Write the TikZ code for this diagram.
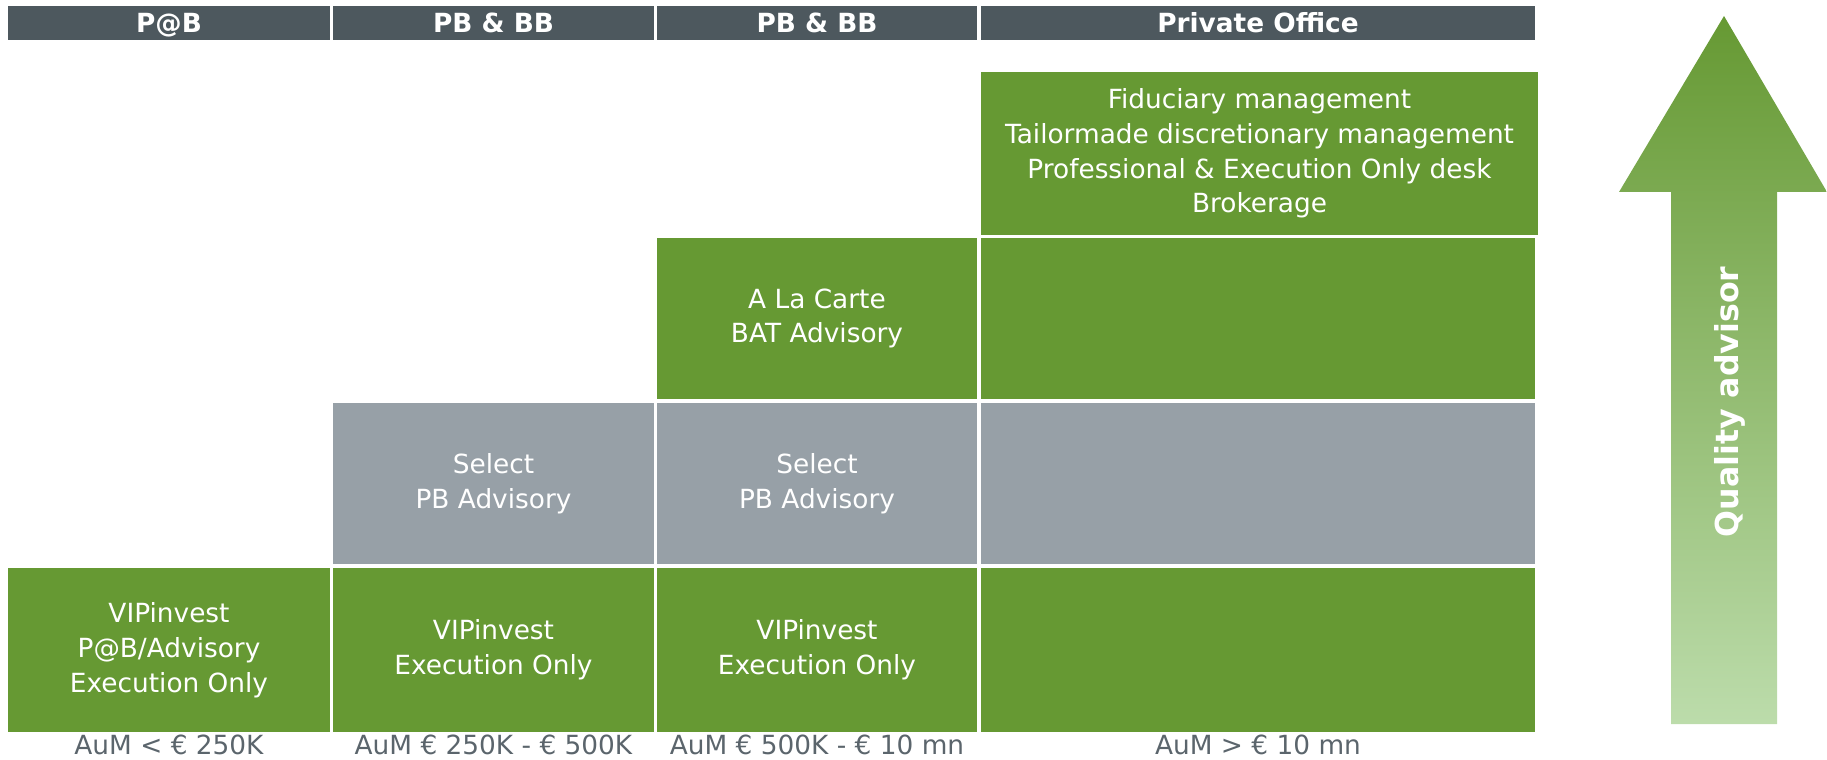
\documentclass[tikz,border=0pt]{standalone}
\usepackage{fontspec}
\setmainfont{DejaVu Sans}

\definecolor{pbgreen}{HTML}{669933}
\definecolor{pbgrey}{HTML}{97A0A7}
\definecolor{pbdark}{HTML}{4D585E}
\definecolor{pbtext}{HTML}{5B656C}
\definecolor{pblight}{HTML}{BCDCAB}

\tikzset{
	cell/.style={rectangle, fill=pbgreen, text=white, inner sep=0pt, align=center, font=\fontsize{15}{19.8}\selectfont},
	greycell/.style={cell, fill=pbgrey},
	colhead/.style={rectangle, fill=pbdark, text=white, inner sep=0pt, minimum height=0.68cm, text height=11pt, text depth=0pt, font=\bfseries\fontsize{15}{17}\selectfont},
	aum/.style={text=pbtext, inner sep=0pt, font=\fontsize{15}{17}\selectfont},
}

\begin{document}
\begin{tikzpicture}
	\useasboundingbox (0,0) rectangle (36.54,15.18);
	
	\def\xA{3.38}  \def\wA{6.44}
	\def\xB{9.87}  \def\wB{6.42}
	\def\xC{16.34} \def\wC{6.40}
	\def\xD{25.16} \def\wD{11.08}
	
	\def\yHd{14.72}
	\def\yI{12.11}  \def\hI{3.26}
	\def\yII{8.81}  \def\hII{3.22}
	\def\yIII{5.51} \def\hIII{3.22}
	\def\yIV{2.18}  \def\hIV{3.28}
	\def\yAum{0.28}
	
	% ── Kopregel per segment ────────────────────────────────────────────
	\node[colhead, minimum width=\wA cm] (hdA) at (\xA,\yHd) {P@B};
	\node[colhead, minimum width=\wB cm] (hdB) at (\xB,\yHd) {PB \& BB};
	\node[colhead, minimum width=\wC cm] (hdC) at (\xC,\yHd) {PB \& BB};
	\node[colhead, minimum width=\wD cm] (hdD) at (\xD,\yHd) {Private Office};
	
	% ── Trap: bovenste rij ──────────────────────────────────────────────
	\node[cell, minimum width=11.14cm, minimum height=\hI cm] (poTop) at (25.19,\yI)
	{Fiduciary management\\Tailormade discretionary management\\Professional \& Execution Only desk\\Brokerage};
	
	\node[cell, minimum width=\wC cm, minimum height=\hII cm] (alcC) at (\xC,\yII) {A La Carte\\BAT Advisory};
	\node[cell, minimum width=\wD cm, minimum height=\hII cm] (alcD) at (\xD,\yII) {};
	
	% ── Select (grijs) ──────────────────────────────────────────────────
	\node[greycell, minimum width=\wB cm, minimum height=\hIII cm] (selB) at (\xB,\yIII) {Select\\PB Advisory};
	\node[greycell, minimum width=\wC cm, minimum height=\hIII cm] (selC) at (\xC,\yIII) {Select\\PB Advisory};
	\node[greycell, minimum width=\wD cm, minimum height=\hIII cm] (selD) at (\xD,\yIII) {};
	
	% ── VIPinvest: onderste rij ─────────────────────────────────────────
	\node[cell, minimum width=\wA cm, minimum height=\hIV cm] (vipA) at (\xA,\yIV) {VIPinvest\\P@B/Advisory\\Execution Only};
	\node[cell, minimum width=\wB cm, minimum height=\hIV cm] (vipB) at (\xB,\yIV) {VIPinvest\\Execution Only};
	\node[cell, minimum width=\wC cm, minimum height=\hIV cm] (vipC) at (\xC,\yIV) {VIPinvest\\Execution Only};
	\node[cell, minimum width=\wD cm, minimum height=\hIV cm] (vipD) at (\xD,\yIV) {};
	
	% ── Vermogensklassen ────────────────────────────────────────────────
	\node[aum] (aumA) at (\xA,\yAum) {AuM < € 250K};
	\node[aum] (aumB) at (\xB,\yAum) {AuM € 250K - € 500K};
	\node[aum] (aumC) at (\xC,\yAum) {AuM € 500K - € 10 mn};
	\node[aum] (aumD) at (\xD,\yAum) {AuM > € 10 mn};
	
	% ── Pijl rechts ─────────────────────────────────────────────────────
	\shade[top color=pbgreen, bottom color=pblight]
	(34.48,14.86) -- (36.54,11.34) -- (35.54,11.34) -- (35.54,0.70)
	-- (33.42,0.70) -- (33.42,11.34) -- (32.38,11.34) -- cycle;
	\node[rotate=90, text=white, font=\bfseries\fontsize{18}{21}\selectfont] (qual) at (34.60,7.14) {Quality advisor};
	
\end{tikzpicture}
\end{document}
